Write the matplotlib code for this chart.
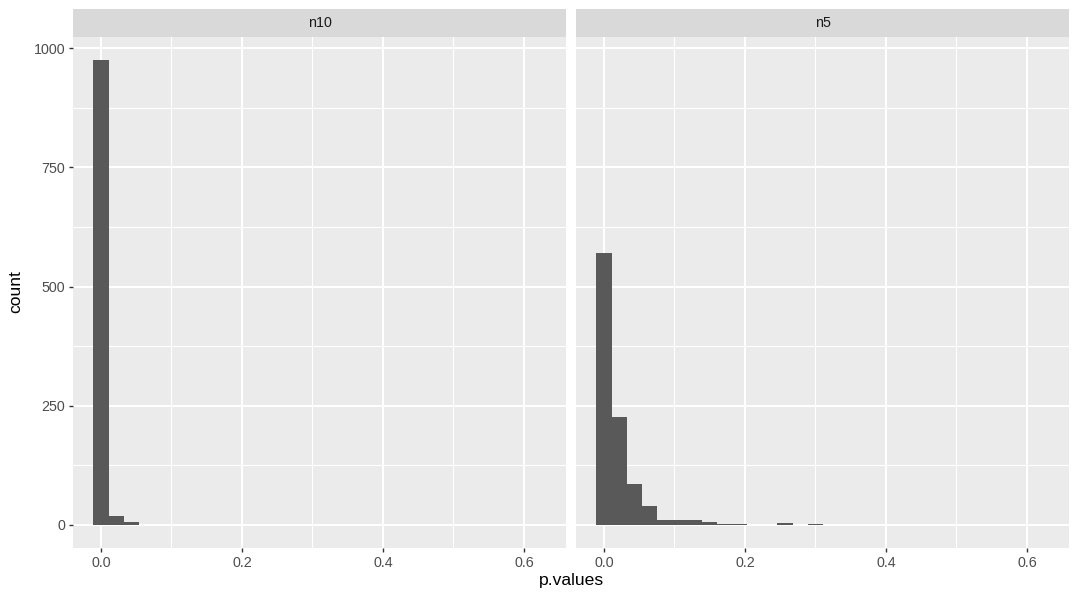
import matplotlib
matplotlib.use("Agg")
import matplotlib.pyplot as plt
import numpy as np

plt.rcParams['font.family'] = ['Liberation Sans', 'DejaVu Sans']

panels = ["n10", "n5"]
bin_width = 0.0214
counts_n10 = [975, 19, 5] + [0] * 27
counts_n5 = [571, 227, 86, 40, 11, 11, 11, 6, 2, 1, 0, 0, 3, 0, 1] + [0] * 15
x_ticks = [0.0, 0.2, 0.4, 0.6]
x_tick_labels = ["0.0", "0.2", "0.4", "0.6"]
y_ticks = [0, 250, 500, 750, 1000]
y_tick_labels = ["0", "250", "500", "750", "1000"]

W, H = 1080, 600
fig = plt.figure(figsize=(W / 100, H / 100), dpi=100)

panel_left = [73, 576]
panel_w = 493
panel_top, panel_bottom = 37, 548
strip_top = 9

xlim = (-0.0397, 0.6596)
ymax = max(max(counts_n10), max(counts_n5))
ylim = (-0.05 * ymax, 1.05 * ymax)

for i, (name, counts) in enumerate(zip(panels, [counts_n10, counts_n5])):
    l = panel_left[i]
    ax = fig.add_axes([l / W, 1 - panel_bottom / H, panel_w / W, (panel_bottom - panel_top) / H])
    ax.set_facecolor('#EBEBEB')
    for s in ax.spines.values():
        s.set_visible(False)
    ax.set_xlim(*xlim)
    ax.set_ylim(*ylim)
    # grid
    for v in [0.1, 0.3, 0.5]:
        ax.axvline(v, color='white', lw=0.8, zorder=0)
    for v in [125, 375, 625, 875]:
        ax.axhline(v, color='white', lw=0.8, zorder=0)
    for v in x_ticks:
        ax.axvline(v, color='white', lw=1.5, zorder=0)
    for v in y_ticks:
        ax.axhline(v, color='white', lw=1.5, zorder=0)
    centers = np.arange(len(counts)) * bin_width
    ax.bar(centers, counts, width=bin_width, color='#595959', linewidth=0, zorder=2)
    ax.set_xticks(x_ticks)
    ax.set_xticklabels(x_tick_labels)
    ax.set_yticks(y_ticks)
    if i == 0:
        ax.set_yticklabels(y_tick_labels)
    else:
        ax.set_yticklabels([])
    ax.tick_params(axis='both', colors='#333333', labelcolor='#4D4D4D', labelsize=10.3,
                   length=3.2, width=1.0, pad=2.5)
    if i != 0:
        ax.tick_params(axis='y', length=0)
    # strip
    sax = fig.add_axes([l / W, 1 - panel_top / H, panel_w / W, (panel_top - strip_top) / H])
    sax.set_facecolor('#D9D9D9')
    sax.set_xticks([]); sax.set_yticks([])
    for s in sax.spines.values():
        s.set_visible(False)
    sax.text(0.5, 0.5, name, ha='center', va='center', fontsize=10.3, color='#1A1A1A',
             transform=sax.transAxes)

fig.text(571 / W, 1 - 581 / H, "p.values", ha='center', va='center', fontsize=12.6, color='black')
fig.text(16 / W, 1 - 292 / H, "count", ha='center', va='center', fontsize=12.6, rotation=90, color='black')

fig.savefig("out.png", dpi=100, facecolor='white')
